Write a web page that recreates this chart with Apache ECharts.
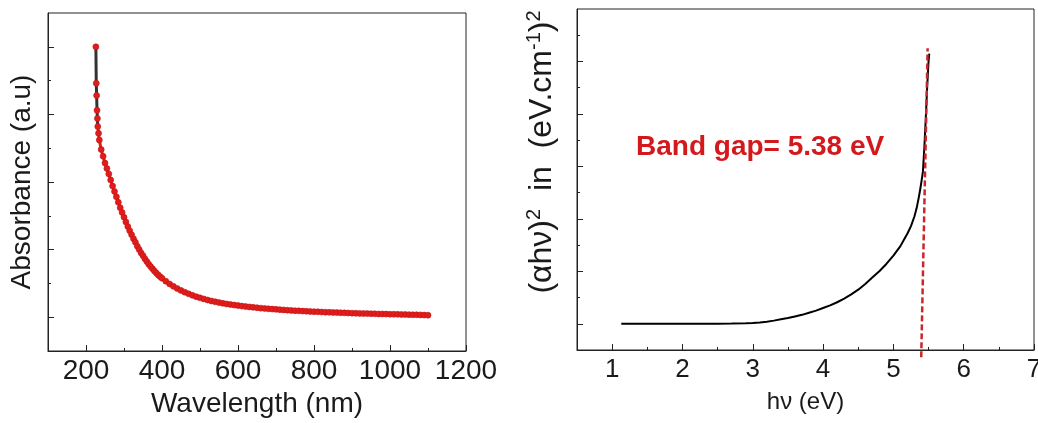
<!DOCTYPE html>
<html>
<head>
<meta charset="utf-8">
<script src="https://cdn.jsdelivr.net/npm/echarts@6/dist/echarts.min.js"></script>
<style>html,body{margin:0;padding:0;background:#fff;}#c{width:1038px;height:423px;}</style>
</head>
<body>
<div id="c"></div>
<script>
// ---------- Left panel: absorbance spectrum ----------
const wavelength = [226,227,228,229,230,231,233,235,240,245,250,255,260,265,270,275,280,285,290,295,300,305,310,315,320,325,330,335,340,345,350,355,360,365,370,375,380,385,390,395,400,410,420,430,440,450,460,470,480,490,500,510,520,530,540,550,560,570,580,590,600,610,620,630,640,650,660,670,680,690,700,710,720,730,740,750,760,770,780,790,800,810,820,830,840,850,860,870,880,890,900,910,920,930,940,950,960,970,980,990,1000,1010,1020,1030,1040,1050,1060,1070,1080,1090,1100];
const absorbance = [2.00,1.73,1.64,1.53,1.47,1.41,1.36,1.31,1.24,1.19,1.14,1.10,1.06,1.015,0.97,0.93,0.89,0.85,0.81,0.775,0.74,0.705,0.67,0.64,0.61,0.58,0.555,0.525,0.50,0.475,0.455,0.432,0.412,0.392,0.375,0.358,0.342,0.327,0.313,0.300,0.288,0.266,0.246,0.228,0.212,0.198,0.185,0.173,0.162,0.152,0.143,0.135,0.127,0.120,0.114,0.108,0.103,0.098,0.094,0.090,0.086,0.082,0.079,0.076,0.073,0.070,0.067,0.065,0.062,0.060,0.058,0.056,0.054,0.052,0.050,0.048,0.047,0.045,0.044,0.042,0.041,0.040,0.038,0.037,0.036,0.035,0.034,0.033,0.032,0.031,0.030,0.029,0.028,0.027,0.027,0.026,0.025,0.024,0.024,0.023,0.022,0.022,0.021,0.020,0.020,0.019,0.018,0.018,0.017,0.016,0.015];
const wlMajorTicks = [200,400,600,800,1000,1200];
const wlMinorTicks = [300,500,700,900,1100];
const absMajorTicks = [0,0.5,1.0,1.5,2.0];
const absMinorTicks = [0.25,0.75,1.25,1.75];

// ---------- Right panel: Tauc plot ----------
const photonEnergy = [1.13,1.3,1.5,1.7,1.9,2.1,2.3,2.5,2.7,2.9,3.0,3.1,3.2,3.3,3.4,3.5,3.6,3.7,3.8,3.9,4.0,4.1,4.2,4.3,4.4,4.5,4.6,4.7,4.8,4.9,5.0,5.05,5.1,5.15,5.2,5.25,5.3,5.33,5.36,5.38,5.40,5.42,5.44,5.46,5.48,5.50,5.51];
const taucValue = [0,0,0,0,0,0,0.001,0.002,0.003,0.008,0.015,0.025,0.04,0.06,0.085,0.11,0.14,0.17,0.21,0.25,0.30,0.35,0.41,0.48,0.56,0.65,0.76,0.88,1.00,1.14,1.30,1.39,1.48,1.60,1.72,1.86,2.05,2.20,2.40,2.55,2.72,2.90,3.35,3.90,4.50,5.00,5.15];
const gapLineX = [5.396,5.487];
const gapLineY = [-0.64,5.25];
const evMajorTicks = [1,2,3,4,5,6,7];
const evMinorTicks = [1.5,2.5,3.5,4.5,5.5,6.5];
const taucMajorTicks = [0,1,2,3,4,5];
const taucMinorTicks = [0.5,1.5,2.5,3.5,4.5,5.5];
const bandGapLabel = 'Band gap= 5.38 eV';

const FONT = '"Liberation Sans", Arial, sans-serif';
const AX = '#222';
const zip = (a, b) => a.map((v, i) => [v, b[i]]);
const plain = v => String(v);

function valAxis(o) {
  return Object.assign({
    type: 'value',
    splitLine: { show: false },
    axisLine: { show: true, onZero: false, lineStyle: { color: AX, width: 1 } },
  }, o);
}
const hiddenLine = { show: false, onZero: false };

const chart = echarts.init(document.getElementById('c'), null, { renderer: 'canvas' });
chart.setOption({
  animation: false,
  backgroundColor: '#fff',
  grid: [
    { left: 48, top: 13, width: 418, height: 338, show: true, borderColor: AX, borderWidth: 1, containLabel: false, outerBoundsMode: 'none' },
    { left: 577, top: 9, width: 457, height: 341, show: true, borderColor: AX, borderWidth: 1, containLabel: false, outerBoundsMode: 'none' }
  ],
  xAxis: [
    valAxis({ gridIndex: 0, min: 100, max: 1200,
      axisTick: { show: true, inside: true, length: 6, customValues: wlMajorTicks, lineStyle: { color: AX } },
      axisLabel: { customValues: wlMajorTicks, formatter: plain, fontSize: 28, color: '#1a1a1a', fontFamily: FONT, margin: 6 },
      name: 'Wavelength (nm)', nameLocation: 'middle', nameGap: 38,
      nameTextStyle: { fontSize: 28, color: '#1a1a1a', fontFamily: FONT } }),
    valAxis({ gridIndex: 0, min: 100, max: 1200, position: 'bottom',
      axisLine: hiddenLine,
      axisTick: { show: true, inside: true, length: 3, customValues: wlMinorTicks, lineStyle: { color: AX } },
      axisLabel: { show: false } }),
    valAxis({ gridIndex: 1, min: 0.5, max: 7,
      axisTick: { show: true, inside: true, length: 6, customValues: evMajorTicks, lineStyle: { color: AX } },
      axisLabel: { customValues: evMajorTicks, formatter: plain, fontSize: 26, color: '#1a1a1a', fontFamily: FONT, margin: 7 },
      name: 'hν (eV)', nameLocation: 'middle', nameGap: 40,
      nameTextStyle: { fontSize: 24, color: '#1a1a1a', fontFamily: FONT } }),
    valAxis({ gridIndex: 1, min: 0.5, max: 7, position: 'bottom',
      axisLine: hiddenLine,
      axisTick: { show: true, inside: true, length: 3, customValues: evMinorTicks, lineStyle: { color: AX } },
      axisLabel: { show: false } })
  ],
  yAxis: [
    valAxis({ gridIndex: 0, min: -0.25, max: 2.25,
      axisTick: { show: true, inside: true, length: 6, customValues: absMajorTicks, lineStyle: { color: AX } },
      axisLabel: { show: false },
      name: 'Absorbance (a.u)', nameLocation: 'middle', nameGap: 12, nameRotate: 90,
      nameTextStyle: { fontSize: 28, color: '#1a1a1a', fontFamily: FONT } }),
    valAxis({ gridIndex: 0, min: -0.25, max: 2.25, position: 'left',
      axisLine: hiddenLine,
      axisTick: { show: true, inside: true, length: 3, customValues: absMinorTicks, lineStyle: { color: AX } },
      axisLabel: { show: false } }),
    valAxis({ gridIndex: 1, min: -0.5, max: 6,
      axisTick: { show: true, inside: true, length: 6, customValues: taucMajorTicks, lineStyle: { color: AX } },
      axisLabel: { show: false } }),
    valAxis({ gridIndex: 1, min: -0.5, max: 6, position: 'left',
      axisLine: hiddenLine,
      axisTick: { show: true, inside: true, length: 3, customValues: taucMinorTicks, lineStyle: { color: AX } },
      axisLabel: { show: false } })
  ],
  series: [
    { name: 'Absorbance', type: 'line', xAxisIndex: 0, yAxisIndex: 0,
      data: zip(wavelength, absorbance),
      showSymbol: true, showAllSymbol: true, symbol: 'circle', symbolSize: 6,
      itemStyle: { color: '#e21b1b', borderColor: '#c01515', borderWidth: 0.6 },
      lineStyle: { width: 3,
        color: { type: 'linear', x: 0, y: 0, x2: 0, y2: 1,
          colorStops: [ { offset: 0, color: '#333' }, { offset: 0.29, color: '#333' }, { offset: 0.31, color: '#e21b1b' }, { offset: 1, color: '#e21b1b' } ] } } },
    { name: 'Tauc', type: 'line', xAxisIndex: 2, yAxisIndex: 2,
      data: zip(photonEnergy, taucValue), showSymbol: false,
      lineStyle: { color: '#000', width: 2 } },
    { name: 'Band gap', type: 'line', xAxisIndex: 2, yAxisIndex: 2, clip: false,
      data: zip(gapLineX, gapLineY), showSymbol: false,
      lineStyle: { color: '#c9272b', width: 2.5, type: [6, 3] } }
  ],
  graphic: [
    { type: 'text', x: 542, y: 152, rotation: Math.PI / 2,
      style: {
        text: '{a|(αhν)}{s|2}{a|  in  (eV.cm}{s|-1}{a|)}{s|2}',
        align: 'center', verticalAlign: 'middle',
        rich: {
          a: { fontSize: 32, fontFamily: FONT, fill: '#1a1a1a', lineHeight: 36 },
          s: { fontSize: 20, fontFamily: FONT, fill: '#1a1a1a', verticalAlign: 'top', lineHeight: 36 }
        }
      } },
    { type: 'text', x: 636, y: 147,
      style: { text: bandGapLabel, fontSize: 28, fontWeight: 'bold', fontFamily: FONT,
        fill: '#d4191d', align: 'left', verticalAlign: 'middle' } }
  ]
});
</script>
</body>
</html>
